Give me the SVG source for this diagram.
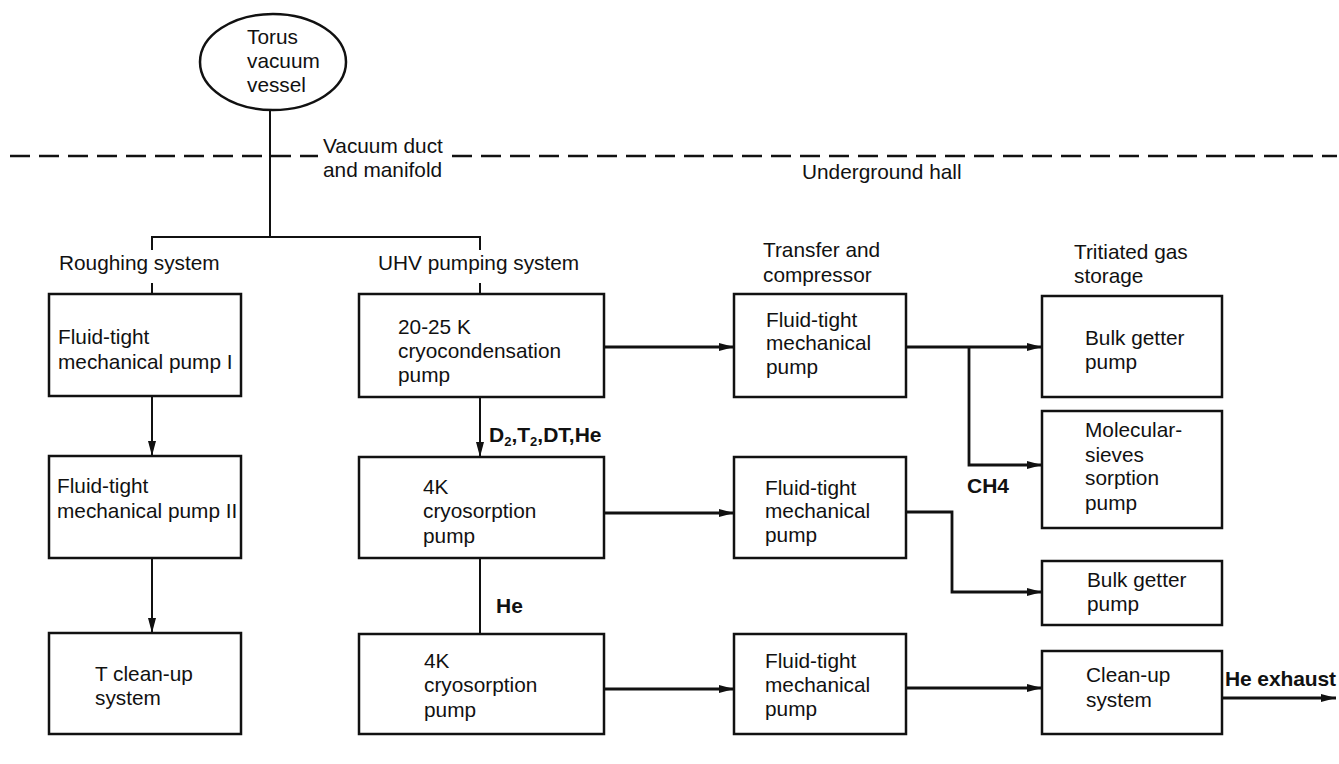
<svg xmlns="http://www.w3.org/2000/svg" width="1339" height="764" viewBox="0 0 1339 764">
<style>
text{font-family:"Liberation Sans",Arial,sans-serif;font-size:20.8px;fill:#111}
.b{font-weight:bold;font-size:21px}
.box{fill:#fff;stroke:#111;stroke-width:2.5}
.ln{fill:none;stroke:#111;stroke-width:2}
.th{fill:none;stroke:#111;stroke-width:2.8}
.dash{fill:none;stroke:#111;stroke-width:2.5;stroke-dasharray:20 9}
</style>
<defs>
<marker id="ah" markerUnits="userSpaceOnUse" markerWidth="16" markerHeight="10" refX="15" refY="5" orient="auto">
<path d="M0,1 L15,5 L0,9 Z" fill="#111"/>
</marker>
</defs>
<rect width="1339" height="764" fill="#fff"/>

<g id="connectors">
<path class="dash" d="M10,156 H318"/>
<path class="dash" d="M452,156 H1337"/>
<path class="ln" d="M270,110 V237"/>
<path class="ln" d="M152,250 V237 H480 V250"/>
<path class="ln" d="M152,283 V294"/>
<path class="ln" d="M480,283 V294"/>
<path class="ln" d="M152,396 V456" marker-end="url(#ah)"/>
<path class="ln" d="M152,558 V633" marker-end="url(#ah)"/>
<path class="ln" d="M480,397 V457" marker-end="url(#ah)"/>
<path class="ln" d="M480,558 V634"/>
<path class="th" d="M604,347 H734" marker-end="url(#ah)"/>
<path class="th" d="M604,513 H734" marker-end="url(#ah)"/>
<path class="th" d="M604,689 H734" marker-end="url(#ah)"/>
<path class="th" d="M906,347 H1042" marker-end="url(#ah)"/>
<path class="th" d="M969,347 V465 H1042" marker-end="url(#ah)"/>
<path class="th" d="M906,512 H952 V592 H1042" marker-end="url(#ah)"/>
<path class="th" d="M906,688 H1042" marker-end="url(#ah)"/>
<path class="th" d="M1222,698 H1336" marker-end="url(#ah)"/>
<text class="b" x="489" y="442">D<tspan font-size="13" dy="4">2</tspan><tspan dy="-4">,T</tspan><tspan font-size="13" dy="4">2</tspan><tspan dy="-4">,DT,He</tspan></text>
<text class="b" x="496" y="613">He</text>
<text class="b" x="967" y="493">CH4</text>
<text class="b" x="1225" y="686" textLength="111">He exhaust</text>
</g>

<g id="labels">
<text x="323" y="153">Vacuum duct</text>
<text x="323" y="177">and manifold</text>
<text x="802" y="179">Underground hall</text>
<text x="59" y="270">Roughing system</text>
<text x="378" y="270">UHV pumping system</text>
<text x="763" y="257">Transfer and</text>
<text x="763" y="282">compressor</text>
<text x="1074" y="259">Tritiated gas</text>
<text x="1074" y="283">storage</text>
</g>

<g id="torus">
<ellipse cx="273" cy="62" rx="73" ry="48" fill="#fff" stroke="#111" stroke-width="2.5"/>
<text x="247" y="44">Torus</text>
<text x="247" y="68">vacuum</text>
<text x="247" y="92">vessel</text>
</g>

<g id="rough1">
<rect class="box" x="49" y="294" width="192" height="102"/>
<text x="58" y="344">Fluid-tight</text>
<text x="58" y="369">mechanical pump I</text>
</g>
<g id="rough2">
<rect class="box" x="49" y="456" width="192" height="102"/>
<text x="57" y="493">Fluid-tight</text>
<text x="57" y="518">mechanical pump II</text>
</g>
<g id="rough3">
<rect class="box" x="49" y="633" width="192" height="101"/>
<text x="95" y="681">T clean-up</text>
<text x="95" y="705">system</text>
</g>

<g id="uhv1">
<rect class="box" x="359" y="294" width="245" height="103"/>
<text x="398" y="334">20-25 K</text>
<text x="398" y="358">cryocondensation</text>
<text x="398" y="382">pump</text>
</g>
<g id="uhv2">
<rect class="box" x="359" y="457" width="245" height="101"/>
<text x="423" y="494">4K</text>
<text x="423" y="518">cryosorption</text>
<text x="423" y="543">pump</text>
</g>
<g id="uhv3">
<rect class="box" x="359" y="634" width="245" height="100"/>
<text x="424" y="668">4K</text>
<text x="424" y="692">cryosorption</text>
<text x="424" y="717">pump</text>
</g>

<g id="trans1">
<rect class="box" x="734" y="294" width="172" height="103"/>
<text x="766" y="327">Fluid-tight</text>
<text x="766" y="350">mechanical</text>
<text x="766" y="374">pump</text>
</g>
<g id="trans2">
<rect class="box" x="734" y="457" width="172" height="101"/>
<text x="765" y="495">Fluid-tight</text>
<text x="765" y="518">mechanical</text>
<text x="765" y="542">pump</text>
</g>
<g id="trans3">
<rect class="box" x="734" y="634" width="172" height="100"/>
<text x="765" y="668">Fluid-tight</text>
<text x="765" y="692">mechanical</text>
<text x="765" y="716">pump</text>
</g>

<g id="bulk1">
<rect class="box" x="1042" y="296" width="180" height="101"/>
<text x="1085" y="345">Bulk getter</text>
<text x="1085" y="369">pump</text>
</g>
<g id="sieves">
<rect class="box" x="1042" y="411" width="180" height="117"/>
<text x="1085" y="437">Molecular-</text>
<text x="1085" y="462">sieves</text>
<text x="1085" y="485">sorption</text>
<text x="1085" y="510">pump</text>
</g>
<g id="bulk2">
<rect class="box" x="1042" y="561" width="180" height="64"/>
<text x="1087" y="587">Bulk getter</text>
<text x="1087" y="611">pump</text>
</g>
<g id="cleanup">
<rect class="box" x="1042" y="651" width="180" height="83"/>
<text x="1086" y="682">Clean-up</text>
<text x="1086" y="707">system</text>
</g>
</svg>
